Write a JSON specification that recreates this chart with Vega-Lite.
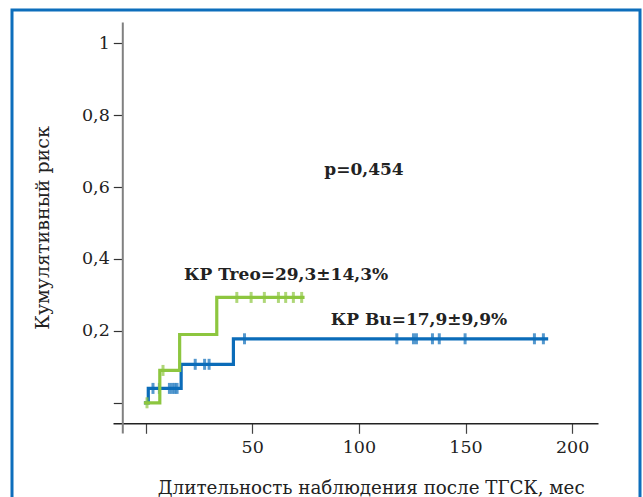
{
  "$schema": "https://vega.github.io/schema/vega-lite/v6.json",
  "autosize": {"type": "none"},
  "width": 628,
  "height": 489,
  "padding": {"left": 12, "top": 10, "right": 3, "bottom": 0},
  "background": "white",
  "config": {
    "view": {"stroke": "#0d6ebc", "strokeWidth": 3},
    "axis": {"grid": false, "labelFont": "DejaVu Serif", "titleFont": "DejaVu Serif", "labelColor": "#222", "titleColor": "#222", "titleFontWeight": "normal"}
  },
  "datasets": {
    "curves": [
      {"group": "Bu", "t": 0, "v": 0},
      {"group": "Bu", "t": 1.3, "v": 0.04},
      {"group": "Bu", "t": 16.7, "v": 0.107},
      {"group": "Bu", "t": 41.2, "v": 0.178},
      {"group": "Bu", "t": 188, "v": 0.178},
      {"group": "Treo", "t": 0, "v": 0},
      {"group": "Treo", "t": 6.7, "v": 0.09},
      {"group": "Treo", "t": 16.0, "v": 0.19},
      {"group": "Treo", "t": 33.4, "v": 0.293},
      {"group": "Treo", "t": 73.8, "v": 0.293}
    ],
    "censors": [
      {"group": "Bu", "t": 3.5, "v": 0.04},
      {"group": "Bu", "t": 6.5, "v": 0.04},
      {"group": "Bu", "t": 11.2, "v": 0.04},
      {"group": "Bu", "t": 12.5, "v": 0.04},
      {"group": "Bu", "t": 13.7, "v": 0.04},
      {"group": "Bu", "t": 14.8, "v": 0.04},
      {"group": "Bu", "t": 23.3, "v": 0.107},
      {"group": "Bu", "t": 27.7, "v": 0.107},
      {"group": "Bu", "t": 29.8, "v": 0.107},
      {"group": "Bu", "t": 46.4, "v": 0.178},
      {"group": "Bu", "t": 117.8, "v": 0.178},
      {"group": "Bu", "t": 125.6, "v": 0.178},
      {"group": "Bu", "t": 127.0, "v": 0.178},
      {"group": "Bu", "t": 134.5, "v": 0.178},
      {"group": "Bu", "t": 137.7, "v": 0.178},
      {"group": "Bu", "t": 149.8, "v": 0.178},
      {"group": "Bu", "t": 182.3, "v": 0.178},
      {"group": "Bu", "t": 186.5, "v": 0.178},
      {"group": "Treo", "t": 0.7, "v": 0},
      {"group": "Treo", "t": 8.2, "v": 0.09},
      {"group": "Treo", "t": 42.8, "v": 0.293},
      {"group": "Treo", "t": 49.5, "v": 0.293},
      {"group": "Treo", "t": 55.7, "v": 0.293},
      {"group": "Treo", "t": 62.3, "v": 0.293},
      {"group": "Treo", "t": 65.7, "v": 0.293},
      {"group": "Treo", "t": 69.3, "v": 0.293},
      {"group": "Treo", "t": 73.2, "v": 0.293}
    ],
    "labels": [
      {"text": "p=0,454", "t": 102.4, "v": 0.647},
      {"text": "КР Treo=29,3±14,3%", "t": 65.9, "v": 0.355},
      {"text": "КР Bu=17,9±9,9%", "t": 128.2, "v": 0.23}
    ]
  },
  "encoding": {
    "x": {
      "field": "t", "type": "quantitative",
      "scale": {"domain": [-15.24, 212.1], "range": [101, 586], "nice": false, "zero": false},
      "axis": {
        "orient": "bottom", "offset": -75.7,
        "values": [0, 50, 100, 150, 200],
        "labelExpr": "datum.value == 0 ? '' : datum.label",
        "labelFontSize": 17.5, "labelPadding": 5,
        "tickSize": 10, "tickColor": "#444", "tickWidth": 1.2,
        "domainColor": "#222", "domainWidth": 1.5,
        "title": "Длительность наблюдения после ТГСК, мес",
        "titleFontSize": 18.3, "titlePadding": 24, "titleX": 358.7
      }
    },
    "y": {
      "field": "v", "type": "quantitative",
      "scale": {"domain": [-0.084, 1.059], "range": [423, 12], "nice": false, "zero": false},
      "axis": {
        "orient": "left", "offset": -110.3,
        "values": [0, 0.2, 0.4, 0.6, 0.8, 1],
        "labelExpr": "datum.value == 0 ? '' : (datum.value == 1 ? '1' : replace(format(datum.value, '.1f'), '.', ','))",
        "labelFontSize": 17.5, "labelPadding": 4,
        "tickSize": 9, "tickColor": "#333", "tickWidth": 1.2,
        "domainColor": "#808080", "domainWidth": 2,
        "title": "Кумулятивный риск",
        "titleFontSize": 19, "titlePadding": 29
      }
    }
  },
  "layer": [
    {
      "data": {"name": "curves"},
      "transform": [{"filter": "datum.group == 'Bu'"}],
      "mark": {"type": "line", "interpolate": "step-after", "strokeWidth": 3.2, "color": "#0b6cb9", "strokeCap": "square"}
    },
    {
      "data": {"name": "censors"},
      "transform": [{"filter": "datum.group == 'Bu'"}],
      "mark": {"type": "tick", "orient": "vertical", "size": 11, "thickness": 3, "color": "#0b6cb9"}
    },
    {
      "data": {"name": "curves"},
      "transform": [{"filter": "datum.group == 'Treo'"}],
      "mark": {"type": "line", "interpolate": "step-after", "strokeWidth": 3.2, "color": "#8dc63f", "strokeCap": "square"}
    },
    {
      "data": {"name": "censors"},
      "transform": [{"filter": "datum.group == 'Treo'"}],
      "mark": {"type": "tick", "orient": "vertical", "size": 11, "thickness": 3, "color": "#8dc63f"}
    },
    {
      "data": {"name": "labels"},
      "mark": {"type": "text", "font": "DejaVu Serif", "fontWeight": "bold", "fontSize": 17, "color": "#222", "align": "center", "baseline": "middle"},
      "encoding": {"text": {"field": "text", "type": "nominal"}}
    }
  ]
}
